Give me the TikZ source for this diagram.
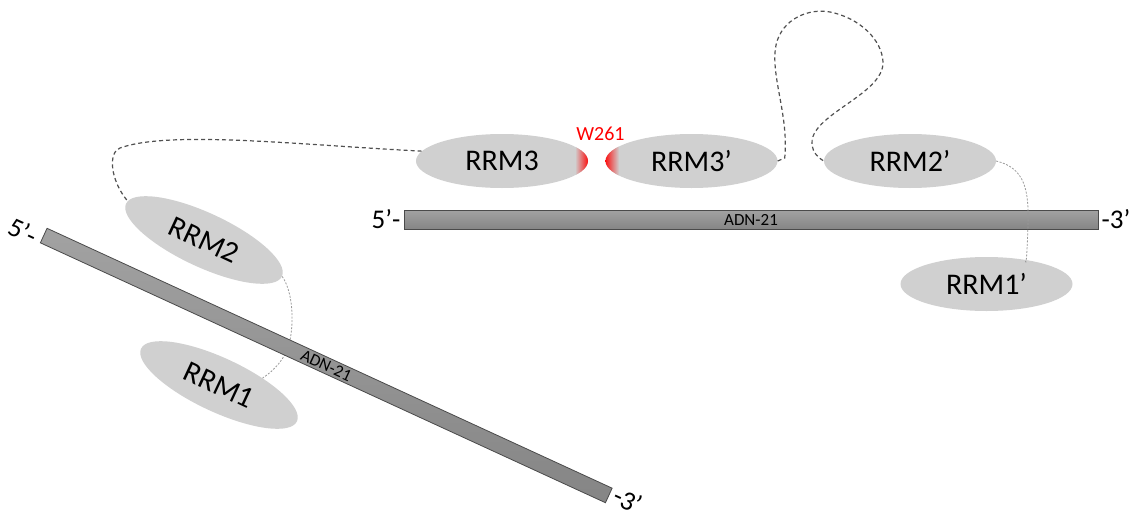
\documentclass[tikz,border=0pt]{standalone}
\usepackage{fontspec}
\setmainfont{Carlito}
\usetikzlibrary{shapes.geometric}
\definecolor{ellfill}{HTML}{D0D0D0}
\definecolor{bartop}{HTML}{A2A2A2}
\definecolor{barbot}{HTML}{858585}
\definecolor{barline}{HTML}{4A4A4A}
\definecolor{linkdark}{HTML}{505050}
\definecolor{linklight}{HTML}{9A9A9A}
\definecolor{wred}{HTML}{FF0000}
\begin{document}
\begin{tikzpicture}[x=1pt,y=-1pt,
  rrm/.style={ellipse, fill=ellfill, minimum width=172pt, minimum height=54pt, inner sep=0pt, font=\fontsize{30}{32}\selectfont},
  dnabar/.style={rectangle, draw=barline, line width=0.8pt, top color=bartop, bottom color=barbot, inner sep=0pt, font=\fontsize{17}{18}\selectfont},
  endlabel/.style={font=\fontsize{27}{28}\selectfont, inner sep=0pt},
  linker/.style={draw=linkdark, line width=1.2pt, dash pattern=on 4pt off 3pt},
  tether/.style={draw=linklight, line width=0.8pt, dash pattern=on 2pt off 1.5pt}]
\useasboundingbox (0,0) rectangle (1134,514);

% domains
\node[rrm] (rrm3) at (502,161) {RRM3};
\node[rrm] (rrm3p) at (691.5,161) {RRM3’};
\node[rrm] (rrm2p) at (910,161) {RRM2’};
\node[rrm] (rrm1p) at (986.5,284) {RRM1’};
\node[rrm, rotate=-25] (rrm2) at (204,240) {RRM2};
\node[rrm, rotate=-25] (rrm1) at (219,385) {RRM1};

% W261 highlights
\begin{scope}
  \clip (rrm3.center) ellipse [x radius=86pt, y radius=27pt];
  \shade[left color=ellfill, right color=wred] (575,130) rectangle (589,192);
\end{scope}
\begin{scope}
  \clip (rrm3p.center) ellipse [x radius=86pt, y radius=27pt];
  \shade[left color=wred, right color=ellfill] (604,130) rectangle (619,192);
\end{scope}
\node[text=wred, font=\fontsize{20}{22}\selectfont, inner sep=0pt] (w261) at (600.5,134) {W261};

% left tether (behind the diagonal strand)
\draw[tether] (rrm2.east) .. controls (292,290) and (295,320) .. (289,345) .. controls (285,358) and (275,370) .. (rrm1.34);

% strands
\node[dnabar, minimum width=694pt, minimum height=19pt] (bar1) at (751,219.5) {ADN-21};
\node[endlabel, anchor=east] (b1five) at ([xshift=-3pt]bar1.west) {5’-};
\node[endlabel, anchor=west] (b1three) at ([xshift=3pt]bar1.east) {-3’};
\node[dnabar, minimum width=622pt, minimum height=16pt, rotate=-24.7] (bar2) at (326.25,365.5) {ADN-21};
\node[endlabel, rotate=-24.7] (b2five) at (23,231) {5’-};
\node[endlabel, rotate=-24.7] (b2three) at (628,500) {-3’};

% linkers
\draw[linker] (rrm3.173) .. controls (300,145) and (170,130) .. (120,148) .. controls (108,152.3) and (110,180) .. (rrm2.178);
\draw[linker] (rrm3p.east) -- ++(7,-3) .. controls (789,115) and (770,75) .. (776,45) .. controls (782,18) and (810,8) .. (830,12) .. controls (860,18) and (882,40) .. (883,62) .. controls (884,95) and (808,115) .. (812,145) .. controls (813,152) and (817,157) .. (rrm2p.west);
\draw[tether] (rrm2p.east) .. controls (1025,168) and (1029,190) .. (1028,225) .. controls (1027,255) and (1026,268) .. (rrm1p.32);
\end{tikzpicture}
\end{document}
